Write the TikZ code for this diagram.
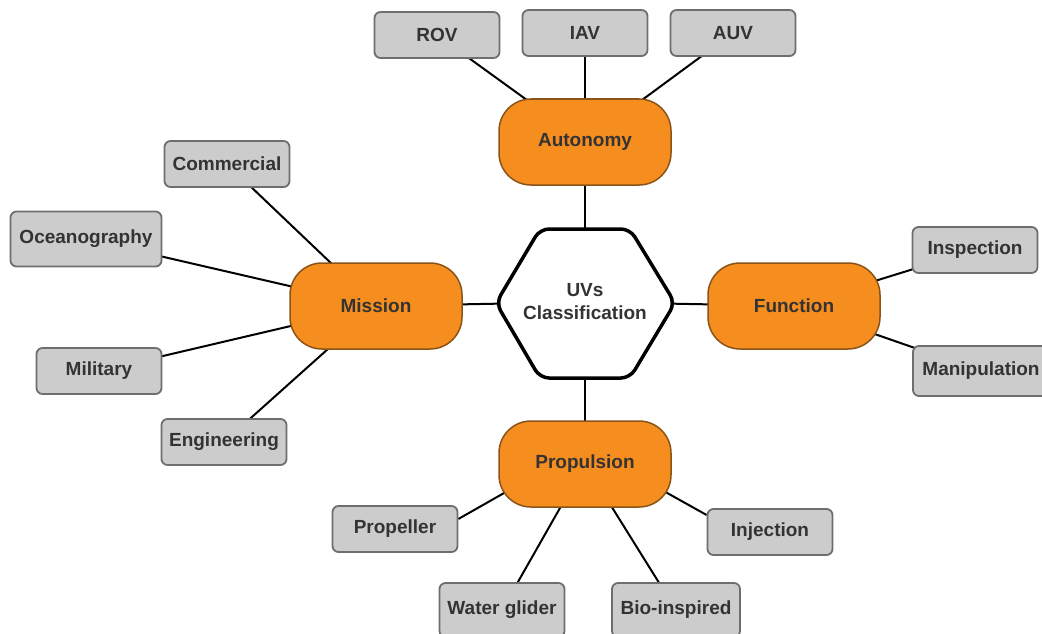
\documentclass[tikz,border=0pt]{standalone}
\usepackage{fontspec}
\setmainfont{Liberation Sans}
\usetikzlibrary{backgrounds}
\definecolor{orfill}{HTML}{F68D1F}
\definecolor{ordraw}{HTML}{8A5418}
\definecolor{gyfill}{HTML}{CCCCCC}
\definecolor{gydraw}{HTML}{6E6E6E}
\definecolor{txt}{HTML}{333333}
\tikzset{
  base/.style={font=\fontsize{19}{23}\selectfont\bfseries, text=txt, inner sep=0pt},
  cat/.style={base, rectangle, rounded corners=32pt, fill=orfill, draw=ordraw, line width=1.5pt, minimum width=172pt, minimum height=86pt},
  leaf/.style={base, rectangle, rounded corners=6pt, fill=gyfill, draw=gydraw, line width=1.8pt, minimum width=125pt, minimum height=46pt},
  link/.style={draw=black, line width=2pt},
  hexline/.style={draw=black, line width=3.5pt, rounded corners=9pt, fill=white}
}
\begin{document}
\begin{tikzpicture}[x=1pt,y=-1pt]
\useasboundingbox (0,0) rectangle (1042,634);
% hexagon
\draw[hexline] (496,303) -- (540,229) -- (630,229) -- (675,303) -- (630,378) -- (540,378) -- cycle;
\node[base, align=center] (hex) at (585,302) {UVs\\Classification};
% categories
\node[cat] (auto) at (585,142) {Autonomy};
\node[cat] (mission) at (376,306) {Mission};
\node[cat] (function) at (794,306) {Function};
\node[cat] (propulsion) at (585,464) {Propulsion};
\coordinate (propaim) at (585,447);
% leaves
\node[leaf] (rov) at (437,35) {ROV};
\node[leaf] (iav) at (585,33) {IAV};
\node[leaf] (auv) at (733,33) {AUV};
\node[leaf] (commercial) at (227,164) {Commercial};
\node[leaf, minimum width=151pt, minimum height=55pt] (ocean) at (86,239) {Oceanography};
\node[leaf] (military) at (99,371) {Military};
\node[leaf] (engineering) at (224,442) {Engineering};
\node[leaf] (inspection) at (975,250) {Inspection};
\node[leaf, minimum width=136pt, minimum height=50pt] (manipulation) at (981,371) {Manipulation};
\node[leaf] (propeller) at (395,529) {Propeller};
\node[leaf] (injection) at (770,532) {Injection};
\node[leaf, minimum height=54pt] (glider) at (502,610) {Water glider};
\node[leaf, minimum width=128pt, minimum height=54pt] (bio) at (676,610) {Bio-inspired};
% connectors
\begin{scope}[on background layer]
\draw[link] (auto.center) -- (hex.center);
\draw[link] (mission.center) -- (hex.center);
\draw[link] (function.center) -- (hex.center);
\draw[link] (propulsion.center) -- (hex.center);
\draw[link] (rov.center) -- (auto.center);
\draw[link] (iav.center) -- (auto.center);
\draw[link] (auv.center) -- (auto.center);
\draw[link] (commercial.center) -- (mission.center);
\draw[link] (ocean.center) -- (mission.center);
\draw[link] (military.center) -- (mission.center);
\draw[link] (engineering.center) -- (mission.center);
\draw[link] (inspection.center) -- (function.center);
\draw[link] (manipulation.center) -- (function.center);
\draw[link] (propeller.9) -- (propaim);
\draw[link] (injection.165) -- (propaim);
\draw[link] (glider.center) -- (propulsion.center);
\draw[link] (bio.center) -- (propulsion.center);
\end{scope}
\end{tikzpicture}
\end{document}
